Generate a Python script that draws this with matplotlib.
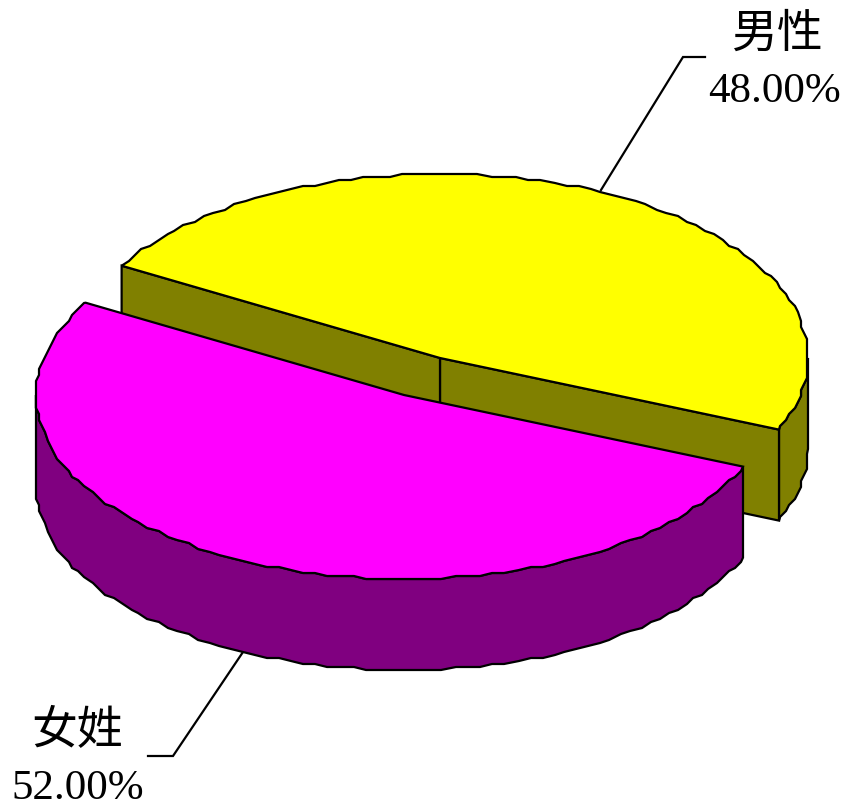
import numpy as np
import matplotlib
matplotlib.use('Agg')
import matplotlib.pyplot as plt
from matplotlib.patches import Polygon

# data
categories = ['男性', '女姓']
shares = [48.00, 52.00]
top_colors = ['#ffff00', '#ff00ff']
side_colors = ['#808000', '#800080']

# pie geometry, in pixels of the reference
centers = [(440, 358), (404, 395)]   # the second slice is pulled out
rx, ry = 368, 184
depth = 91
start_angle = -22.9
step = 2.0  # degrees between rim points
grid = 3    # outline of the original is wobbly, snap the rim to a coarse grid

plt.rcParams['font.family'] = ['Liberation Serif', 'Noto Sans CJK TC']

fig = plt.figure(figsize=(8.44, 8.07), dpi=100)
ax = fig.add_axes([0, 0, 1, 1])
ax.set_xlim(0, 844)
ax.set_ylim(807, 0)
ax.axis('off')


def rim(center, a0, a1, dz=0):
    """points along the rim from angle a0 to a1, y goes down on screen"""
    inner = np.arange(np.ceil(a0 / step + 0.01) * step, a1, step)
    t = np.radians(inner)
    x = np.round((center[0] + rx * np.cos(t)) / grid) * grid
    y = np.round((center[1] - ry * np.sin(t)) / grid) * grid + dz
    pts = [(center[0] + rx * np.cos(np.radians(a)),
            center[1] - ry * np.sin(np.radians(a)) + dz) for a in (a0, a1)]
    return np.vstack([pts[:1], np.column_stack([x, y]), pts[1:]])


def add_poly(pts, color, z):
    ax.add_patch(Polygon(pts, closed=True, facecolor=color, edgecolor='black',
                         linewidth=1.6, joinstyle='miter', zorder=z))


def draw_slice(center, a0, a1, top, side, z):
    cx, cy = center
    # walls seen from the front: rim parts between 180 and 360 degrees
    for lo, hi in [(a0, a1), (a0 + 360, a1 + 360)]:
        w0, w1 = max(lo, 180), min(hi, 360)
        if w0 < w1:
            upper = rim(center, w0, w1)
            lower = rim(center, w0, w1, depth)
            add_poly(np.vstack([upper, lower[::-1]]), side, z)
    # cut faces, only the ones turned towards the viewer
    p0, p1 = rim(center, a0, a1)[[0, -1]]
    if np.sin(np.radians(a0 - 90)) < 0:
        add_poly([p0, (cx, cy), (cx, cy + depth), (p0[0], p0[1] + depth)], side, z)
    if np.sin(np.radians(a1 + 90)) < 0:
        add_poly([p1, (cx, cy), (cx, cy + depth), (p1[0], p1[1] + depth)], side, z)
    add_poly(np.vstack([[(cx, cy)], rim(center, a0, a1)]), top, z + 0.5)


angle = start_angle
for i, share in enumerate(shares):
    sweep = share / sum(shares) * 360
    draw_slice(centers[i], angle, angle + sweep, top_colors[i], side_colors[i], i + 1)
    angle += sweep

# leader lines
ax.plot([705, 683, 601], [57, 57, 190], color='black', lw=1.6, zorder=0.5,
        solid_joinstyle='miter')
ax.plot([148, 173, 243], [756, 756, 652], color='black', lw=1.6, zorder=0.5,
        solid_joinstyle='miter')

# labels
ax.text(777, 36, categories[0], fontsize=33, ha='center', va='center')
ax.text(774.5, 92, '%.2f%%' % shares[0], fontsize=31, ha='center', va='center')
ax.text(77, 733, categories[1], fontsize=33, ha='center', va='center')
ax.text(78, 789, '%.2f%%' % shares[1], fontsize=31, ha='center', va='center')

fig.savefig('out.png', dpi=100, facecolor='white')
